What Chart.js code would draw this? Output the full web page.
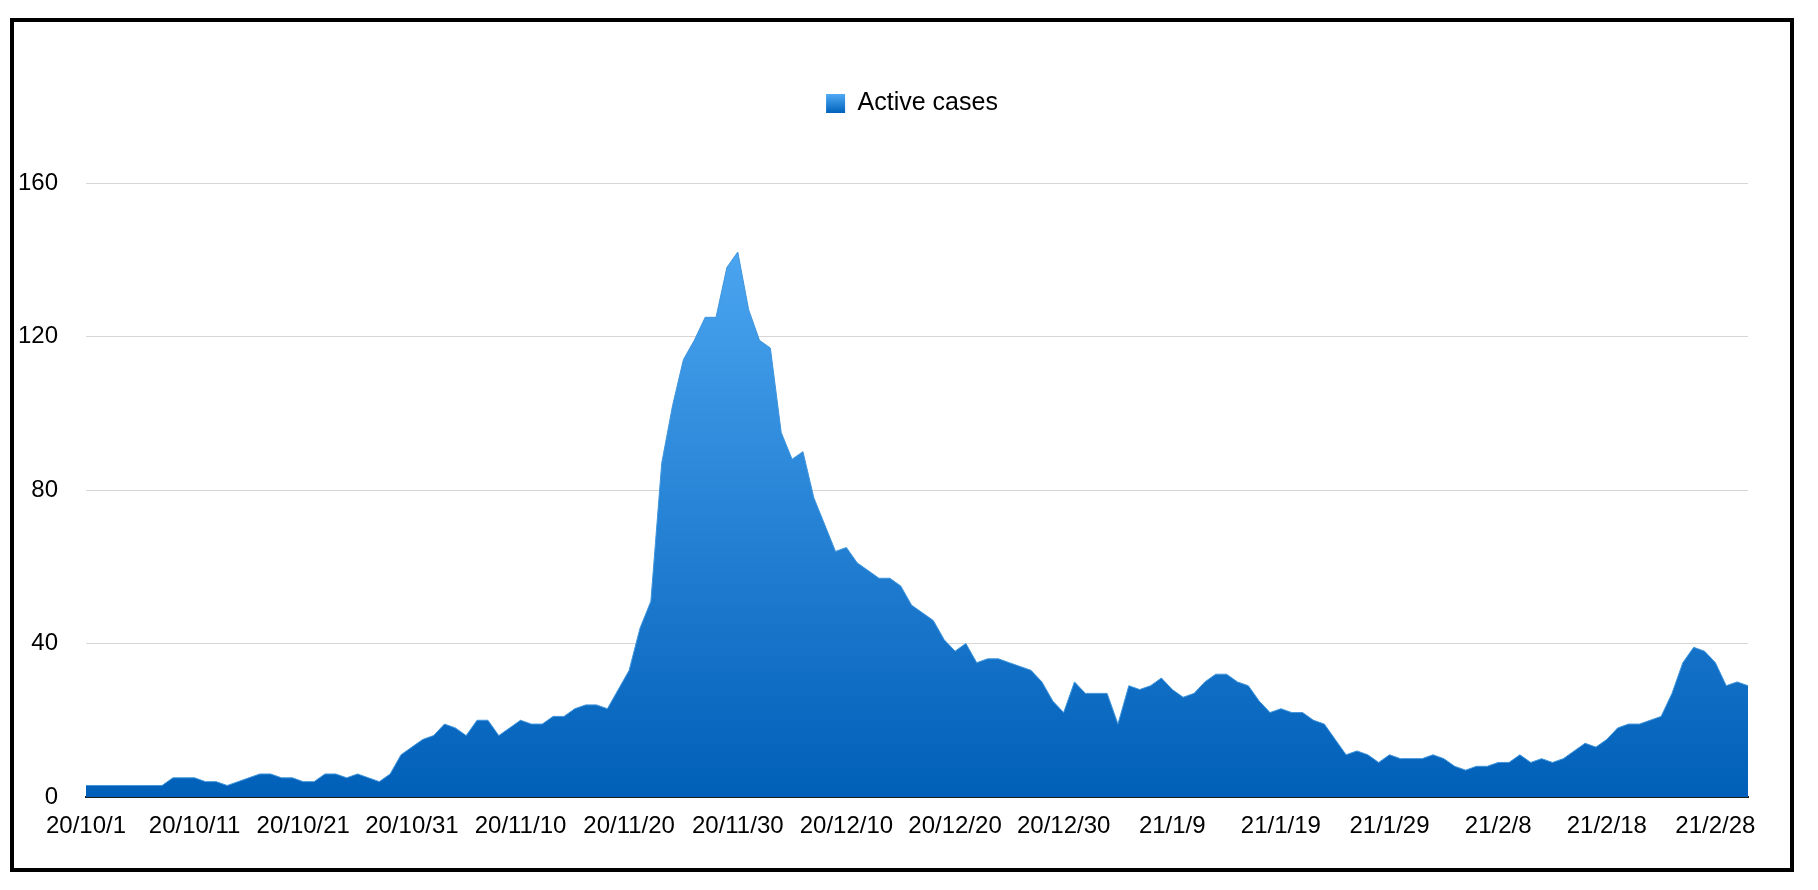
<!DOCTYPE html>
<html>
<head>
<meta charset="utf-8">
<title>Active cases</title>
<script src="https://cdn.jsdelivr.net/npm/chart.js@4.4.1/dist/chart.umd.min.js"></script>
<style>
  html, body { margin: 0; padding: 0; background: #fff; }
  #wrap { position: relative; width: 1818px; height: 890px; }
  #frame { position: absolute; left: 10px; top: 18px; width: 1784px; height: 854px; box-sizing: border-box; border: 4px solid #000; }
  #chart { position: absolute; left: 0; top: 0; }
</style>
</head>
<body>
<div id="wrap">
  <div id="frame"></div>
  <canvas id="chart" width="1818" height="890"></canvas>
</div>
<script>
// data, one value per day from 20/10/1
const seriesName = 'Active cases';
const activeCases = [
    3, 3, 3, 3, 3, 3, 3, 3, 5, 5,
    5, 4, 4, 3, 4, 5, 6, 6, 5, 5,
    4, 4, 6, 6, 5, 6, 5, 4, 6, 11,
    13, 15, 16, 19, 18, 16, 20, 20, 16, 18,
    20, 19, 19, 21, 21, 23, 24, 24, 23, 28,
    33, 44, 51, 87, 102, 114, 119, 125, 125, 138,
    142, 127, 119, 117, 95, 88, 90, 78, 71, 64,
    65, 61, 59, 57, 57, 55, 50, 48, 46, 41,
    38, 40, 35, 36, 36, 35, 34, 33, 30, 25,
    22, 30, 27, 27, 27, 19, 29, 28, 29, 31,
    28, 26, 27, 30, 32, 32, 30, 29, 25, 22,
    23, 22, 22, 20, 19, 15, 11, 12, 11, 9,
    11, 10, 10, 10, 11, 10, 8, 7, 8, 8,
    9, 9, 11, 9, 10, 9, 10, 12, 14, 13,
    15, 18, 19, 19, 20, 21, 27, 35, 39, 38,
    35, 29, 30, 29
];
const tickLabels = ['20/10/1', '20/10/11', '20/10/21', '20/10/31', '20/11/10', '20/11/20', '20/11/30', '20/12/10',
    '20/12/20', '20/12/30', '21/1/9', '21/1/19', '21/1/29', '21/2/8', '21/2/18', '21/2/28'];
const yTicks = [0, 40, 80, 120, 160];

// one category per day, yy/m/d
const days = activeCases.map((_, i) => {
    const d = new Date(2020, 9, 1 + i);
    return String(d.getFullYear()).slice(2) + '/' + (d.getMonth() + 1) + '/' + d.getDate();
});

const PAD = { top: 81, right: 70, bottom: 33, left: 10 };
const LEGEND_GAP = 57;
const LEGEND_LEFT = 76;
const LEGEND_FONT = 25;
const AXIS_FONT = 24;
const BOX = 19;

Chart.defaults.font.family = "'Liberation Sans', Arial, Helvetica, sans-serif";
Chart.defaults.color = '#000';

// extra room under the legend, and centre it on the page rather than the plot
const legendSpacer = {
    id: 'legendSpacer',
    afterInit(chart) {
        const fit = chart.legend.fit;
        chart.legend.fit = function () {
            fit.call(this);
            this.height += LEGEND_GAP;
        };
    },
    afterLayout(chart) {
        chart.legend.left = LEGEND_LEFT;
    }
};

new Chart(document.getElementById('chart'), {
    type: 'line',
    data: {
        labels: days,
        datasets: [{
            label: seriesName,
            data: activeCases,
            fill: 'origin',
            tension: 0,
            pointRadius: 0,
            borderWidth: 1,
            borderColor: '#3f95dd',
            backgroundColor(ctx) {
                const area = ctx.chart.chartArea;
                if (!area) return '#0a6fc6';
                const g = ctx.chart.ctx.createLinearGradient(0, area.top, 0, area.bottom);
                g.addColorStop(0, '#54adf7');
                g.addColorStop(1, '#005fb8');
                return g;
            }
        }]
    },
    options: {
        responsive: false,
        animation: false,
        devicePixelRatio: 1,
        layout: { padding: PAD },
        plugins: {
            tooltip: { enabled: false },
            legend: {
                position: 'top',
                align: 'center',
                labels: {
                    boxWidth: BOX,
                    boxHeight: BOX,
                    padding: 10,
                    color: '#000',
                    font: { size: LEGEND_FONT },
                    generateLabels(chart) {
                        const items = Chart.defaults.plugins.legend.labels.generateLabels(chart);
                        const y0 = PAD.top + 10 + (LEGEND_FONT - BOX) / 2;
                        const g = chart.ctx.createLinearGradient(0, y0, 0, y0 + BOX);
                        g.addColorStop(0, '#50aaf5');
                        g.addColorStop(1, '#0062bb');
                        items.forEach(it => {
                            it.fillStyle = g;
                            it.strokeStyle = 'rgba(0,0,0,0)';
                            it.lineWidth = 0;
                        });
                        return items;
                    }
                }
            }
        },
        scales: {
            x: {
                z: 1,
                grid: { display: false, drawTicks: false },
                border: { display: true, color: '#1c1c1c', width: 2 },
                ticks: {
                    autoSkip: false,
                    maxRotation: 0,
                    minRotation: 0,
                    padding: 15,
                    color: '#000',
                    font: { size: AXIS_FONT },
                    callback(value) {
                        const l = this.getLabelForValue(value);
                        return tickLabels.includes(l) ? l : null;
                    }
                },
                afterFit(axis) { axis.height = 60; }
            },
            y: {
                min: yTicks[0],
                max: yTicks[yTicks.length - 1],
                afterBuildTicks(axis) { axis.ticks = yTicks.map(v => ({ value: v })); },
                grid: {
                    drawTicks: false,
                    lineWidth: 1,
                    color: c => (c.tick && c.tick.value === 0) ? 'rgba(0,0,0,0)' : '#d6d6d6'
                },
                border: { display: false },
                ticks: { padding: 28, color: '#000', font: { size: AXIS_FONT } },
                afterFit(axis) { axis.width = 76; }
            }
        }
    },
    plugins: [legendSpacer]
});
</script>
</body>
</html>
